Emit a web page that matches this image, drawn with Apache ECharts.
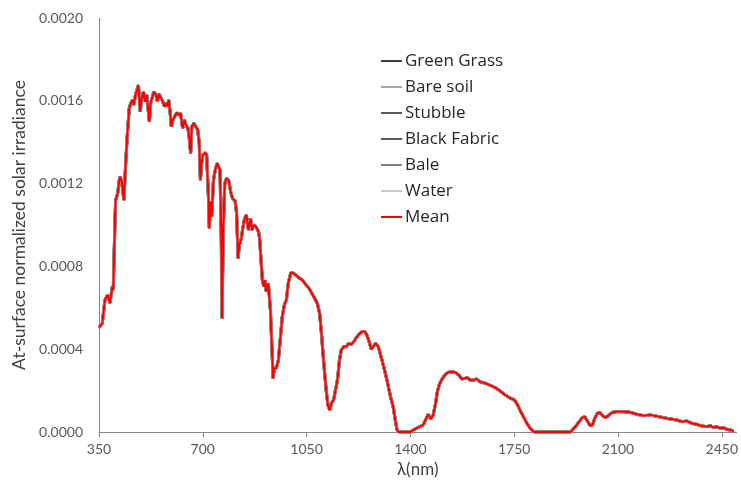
<!DOCTYPE html>
<html>
<head>
<meta charset="utf-8">
<script src="https://cdn.jsdelivr.net/npm/echarts@6/dist/echarts.min.js"></script>
<style>html,body{margin:0;padding:0;background:#fff;}#c{width:741px;height:484px;}</style>
</head>
<body>
<div id="c"></div>
<script>
const wavelengths = [350,353,361,370,379,387,395,398,404,406,413,420,426,434,440,445,452,457,463,467,473,478,483,489,494,500,505,511,515,520,524,529,535,542,547,552,558,565,571,577,580,585,589,594,599,605,612,618,625,632,638,643,650,654,659,663,670,676,683,688,692,696,700,709,713,719,722,726,730,736,742,748,753,758,762,765,769,774,780,787,794,800,809,814,819,823,830,834,841,847,854,861,866,872,879,888,892,897,901,906,910,914,921,928,933,937,941,948,955,961,968,975,982,988,997,1006,1020,1035,1058,1074,1086,1094,1100,1108,1116,1122,1128,1134,1141,1147,1154,1161,1167,1175,1184,1192,1201,1209,1216,1225,1237,1246,1253,1261,1268,1275,1283,1292,1301,1310,1321,1333,1342,1349,1355,1362,1399,1410,1421,1432,1443,1451,1460,1469,1477,1485,1491,1499,1507,1516,1527,1538,1552,1563,1574,1583,1592,1603,1612,1623,1634,1650,1667,1684,1701,1717,1734,1751,1762,1773,1784,1796,1807,1818,1940,1946,1957,1969,1980,1988,1997,2006,2014,2021,2030,2039,2048,2058,2070,2081,2097,2120,2142,2164,2187,2209,2232,2254,2276,2299,2315,2332,2349,2366,2383,2400,2411,2422,2433,2444,2456,2467,2478,2490];
const meanIrradiance = [0.000505,0.000509,0.000525,0.000638,0.000662,0.000623,0.000702,0.000686,0.001024,0.00112,0.001153,0.001233,0.001217,0.00112,0.001298,0.001427,0.001564,0.001588,0.001604,0.00158,0.001628,0.001636,0.001676,0.001547,0.001612,0.001644,0.001596,0.001628,0.00162,0.001499,0.001588,0.001596,0.001644,0.001628,0.001596,0.001633,0.001633,0.001596,0.001572,0.001588,0.001572,0.001604,0.001556,0.001475,0.001507,0.001523,0.001543,0.001531,0.00154,0.001467,0.001507,0.001483,0.001467,0.001427,0.001346,0.001475,0.001491,0.001483,0.001459,0.001395,0.001217,0.001298,0.001338,0.001349,0.001338,0.001137,0.000984,0.001113,0.00104,0.001217,0.001266,0.001298,0.00129,0.001266,0.000976,0.000549,0.000976,0.001201,0.001225,0.001217,0.001161,0.001129,0.001117,0.001056,0.000839,0.000903,0.000936,0.000976,0.001032,0.001048,0.000976,0.001032,0.000976,0.001,0.000992,0.000968,0.000928,0.000815,0.000734,0.000702,0.000734,0.000678,0.000718,0.000589,0.000412,0.000259,0.000308,0.000308,0.000348,0.000444,0.000557,0.000614,0.000638,0.000718,0.00077,0.000767,0.00075,0.000734,0.000694,0.000654,0.000622,0.000573,0.000477,0.000332,0.000203,0.00013,0.000106,0.000139,0.000155,0.000163,0.000251,0.000348,0.000396,0.000412,0.000412,0.000428,0.000424,0.000436,0.000452,0.000469,0.000485,0.000485,0.000469,0.000436,0.0004,0.000412,0.000428,0.000412,0.000364,0.000316,0.000251,0.000171,0.000122,0.000058,0.00001,0,0,0.00001,0.000018,0.000026,0.000034,0.000058,0.000085,0.000063,0.000082,0.000139,0.000195,0.000235,0.000256,0.000275,0.000288,0.000291,0.000288,0.000275,0.000256,0.000259,0.000262,0.00025,0.00025,0.000256,0.000243,0.000237,0.000227,0.000216,0.0002,0.000182,0.000166,0.000155,0.00013,0.000095,0.000066,0.000034,0.000013,0,0,0.000008,0.000026,0.00005,0.000069,0.000074,0.000053,0.000031,0.000034,0.000063,0.00009,0.000095,0.000079,0.000069,0.000082,0.000095,0.000098,0.000098,0.000095,0.000085,0.000079,0.000082,0.000076,0.000069,0.000063,0.000058,0.00005,0.000053,0.000042,0.000037,0.000029,0.000026,0.000031,0.000021,0.000026,0.000018,0.000021,0.000013,0.00001,0.000005];
// The six surface series are visually indistinguishable from the mean in the picture
const greenGrass = meanIrradiance;
const bareSoil = meanIrradiance;
const stubble = meanIrradiance;
const blackFabric = meanIrradiance;
const bale = meanIrradiance;
const water = meanIrradiance;
const seriesNames = ['Green Grass','Bare soil','Stubble','Black Fabric','Bale','Water','Mean'];
const xTicks = [350,700,1050,1400,1750,2100,2450];

const seriesValues = [greenGrass, bareSoil, stubble, blackFabric, bale, water, meanIrradiance];
const colors = ['#3f3f3f','#a6a6a6','#595959','#5a5a5a','#808080','#c8c8c8','#ff0000'];
const widths = [3.0,2.8,2.8,3.0,2.8,2.6,2.2];

const chart = echarts.init(document.getElementById('c'), null, {renderer:'canvas'});
const font = 'Lato, "Open Sans", sans-serif';
chart.setOption({
  animation:false,
  backgroundColor:'#fff',
  grid:{left:99,right:1,top:18,bottom:52,containLabel:false},
  legend:{
    orient:'vertical', left:376, top:46, icon:'rect', itemWidth:21, itemHeight:2, itemGap:6,
    data:seriesNames.map((n,i)=>({name:n, itemStyle:{color:colors[i]}})),
    textStyle:{fontFamily:'"Open Sans", Lato, sans-serif', fontSize:17, color:'#262626', lineHeight:20, padding:[0,0,0,-2]}
  },
  xAxis:{
    type:'value', min:350, max:2500, interval:350,
    name:'λ(nm)', nameLocation:'middle', nameGap:24,
    nameTextStyle:{fontFamily:font, fontSize:17, color:'#404040'},
    axisLine:{lineStyle:{color:'#868686', width:1}},
    axisTick:{show:true, length:5, lineStyle:{color:'#868686'}},
    splitLine:{show:false},
    axisLabel:{fontFamily:font, fontSize:14, color:'#595959', margin:10, showMaxLabel:false,
      formatter:v=> xTicks.includes(v) ? String(v) : ''}
  },
  yAxis:{
    type:'value', min:0, max:0.002, interval:0.0004,
    name:'At-surface normalized solar irradiance', nameLocation:'middle', nameGap:66,
    nameTextStyle:{fontFamily:font, fontSize:17.5, color:'#404040'},
    axisLine:{show:true, lineStyle:{color:'#868686', width:1}},
    axisTick:{show:false},
    splitLine:{show:false},
    axisLabel:{fontFamily:font, fontSize:14, color:'#595959', margin:16, formatter:v=>v.toFixed(4)}
  },
  series:seriesNames.map((n,i)=>({
    name:n, type:'line', symbol:'none', showSymbol:false, smooth:false,
    data:wavelengths.map((w,k)=>[w, seriesValues[i][k]]),
    lineStyle:{color:colors[i], width:widths[i]},
    itemStyle:{color:colors[i]},
    z:2+i
  }))
});
</script>
</body>
</html>
